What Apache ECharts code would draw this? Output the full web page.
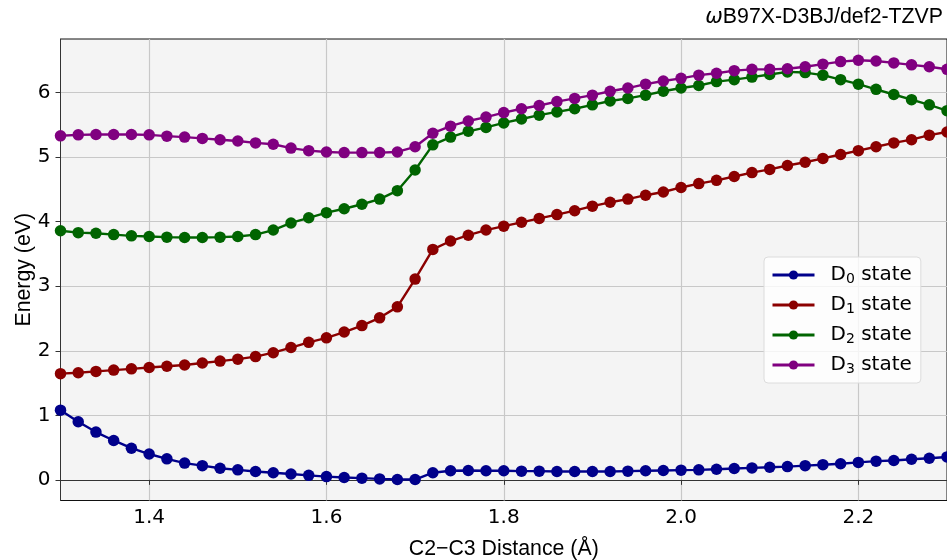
<!DOCTYPE html>
<html>
<head>
<meta charset="utf-8">
<script src="https://cdn.jsdelivr.net/npm/echarts/dist/echarts.min.js"></script>
<style>
  body { margin: 0; background: #fff; }
  #chart { width: 947px; height: 560px; }
</style>
</head>
<body>
<div id="chart"></div>
<script>
// C2-C3 distance (Å)
const distance = [
  1.30, 1.32, 1.34, 1.36, 1.38, 1.40, 1.42, 1.44, 1.46, 1.48,
  1.50, 1.52, 1.54, 1.56, 1.58, 1.60, 1.62, 1.64, 1.66, 1.68,
  1.70, 1.72, 1.74, 1.76, 1.78, 1.80, 1.82, 1.84, 1.86, 1.88,
  1.90, 1.92, 1.94, 1.96, 1.98, 2.00, 2.02, 2.04, 2.06, 2.08,
  2.10, 2.12, 2.14, 2.16, 2.18, 2.20, 2.22, 2.24, 2.26, 2.28, 2.30
];
// energies (eV)
const d0 = [
  1.08, 0.90, 0.74, 0.61, 0.49, 0.40, 0.325, 0.26, 0.22, 0.18,
  0.155, 0.13, 0.11, 0.09, 0.07, 0.05, 0.036, 0.026, 0.015, 0.005,
  0.005, 0.11, 0.14, 0.145, 0.14, 0.14, 0.135, 0.135, 0.13, 0.13,
  0.13, 0.13, 0.135, 0.14, 0.145, 0.15, 0.155, 0.165, 0.175, 0.185,
  0.195, 0.205, 0.22, 0.235, 0.25, 0.27, 0.29, 0.30, 0.32, 0.335, 0.355
];
const d1 = [
  1.645, 1.66, 1.68, 1.70, 1.72, 1.74, 1.76, 1.78, 1.81, 1.84,
  1.87, 1.91, 1.97, 2.05, 2.13, 2.20, 2.29, 2.39, 2.51, 2.68,
  3.11, 3.57, 3.70, 3.79, 3.87, 3.93, 3.99, 4.05, 4.11, 4.17,
  4.24, 4.30, 4.35, 4.41, 4.46, 4.53, 4.59, 4.64, 4.70, 4.76,
  4.81, 4.87, 4.92, 4.98, 5.04, 5.10, 5.16, 5.22, 5.27, 5.34, 5.39
];
const d2 = [
  3.86, 3.83, 3.82, 3.80, 3.78, 3.77, 3.76, 3.755, 3.755, 3.76,
  3.77, 3.80, 3.87, 3.98, 4.06, 4.14, 4.20, 4.27, 4.35, 4.48,
  4.80, 5.19, 5.31, 5.40, 5.46, 5.53, 5.59, 5.65, 5.70, 5.75,
  5.81, 5.87, 5.91, 5.96, 6.02, 6.07, 6.11, 6.17, 6.20, 6.24,
  6.28, 6.32, 6.31, 6.27, 6.20, 6.13, 6.05, 5.97, 5.89, 5.81, 5.72
];
const d3 = [
  5.33, 5.345, 5.35, 5.35, 5.35, 5.345, 5.325, 5.31, 5.29, 5.27,
  5.25, 5.22, 5.20, 5.14, 5.10, 5.08, 5.07, 5.07, 5.07, 5.08,
  5.16, 5.37, 5.48, 5.56, 5.62, 5.69, 5.75, 5.80, 5.86, 5.91,
  5.96, 6.02, 6.07, 6.13, 6.18, 6.22, 6.27, 6.30, 6.34, 6.36,
  6.36, 6.37, 6.40, 6.44, 6.48, 6.50, 6.49, 6.46, 6.43, 6.40, 6.36
];
const stateNames = ["D0 state", "D1 state", "D2 state", "D3 state"];
const stateColors = ["#00008b", "#8b0000", "#006400", "#800080"];
const xTicks = [1.4, 1.6, 1.8, 2.0, 2.2];
const yTicks = [0, 1, 2, 3, 4, 5, 6];

const tickFont = { fontFamily: "DejaVu Sans", fontSize: 20, color: "#000" };
const labelFont = { fontFamily: "Liberation Sans", fontSize: 21.3, color: "#000" };

let chartDom = document.getElementById("chart");
let myChart = echarts.init(chartDom);

let series = [d0, d1, d2, d3].map((ys, i) => ({
  name: stateNames[i],
  type: "line",
  data: distance.map((x, j) => [x, ys[j]]),
  symbol: "circle",
  symbolSize: 11.5,
  clip: true,
  color: stateColors[i],
  lineStyle: { width: 2.4, color: stateColors[i] },
  itemStyle: { color: stateColors[i] },
  emphasis: { disabled: true },
  z: 3 + i,
}));

let options = {
  animation: false,
  title: {
    // ω is drawn in italic like matplotlib mathtext
    text: "{w|ω}B97X-D3BJ/def2-TZVP",
    right: 4,
    top: 7,
    padding: 0,
    textStyle: {
      ...labelFont,
      fontWeight: "normal",
      rich: {
        w: { fontFamily: "DejaVu Sans", fontStyle: "italic", fontSize: 21, color: "#000" },
      },
    },
  },
  grid: {
    left: 60.5,
    right: 0,
    top: 39,
    bottom: 59.5,
    // keep the plot box fixed, labels may sit outside it
    outerBoundsMode: "none",
    containLabel: false,
    show: true,
    backgroundColor: "#f4f4f4",
    borderColor: "#111",
    borderWidth: 1,
  },
  legend: {
    left: 764,
    top: 257,
    orient: "vertical",
    padding: [6, 9, 7, 7],
    itemWidth: 42,
    itemHeight: 11.5,
    itemGap: 7,
    backgroundColor: "rgba(255,255,255,0.8)",
    borderColor: "#dcdcdc",
    borderWidth: 1,
    borderRadius: 4,
    lineStyle: { width: 3 },
    formatter: (name) => name.replace(/D(\d)/, "D{sub|$1}"),
    textStyle: {
      fontFamily: "DejaVu Sans",
      fontSize: 20,
      color: "#000",
      lineHeight: 22,
      padding: [0, 0, 0, 11],
      rich: {
        sub: {
          fontFamily: "DejaVu Sans",
          fontSize: 14,
          lineHeight: 22,
          verticalAlign: "bottom",
          padding: [9, 0, 0, 0],
        },
      },
    },
    data: stateNames,
  },
  xAxis: {
    type: "value",
    min: 1.3,
    max: 2.3,
    splitNumber: 5,
    name: "C2\u2212C3 Distance (Å)",
    nameLocation: "middle",
    nameGap: 38,
    nameMoveOverlap: false,
    nameTextStyle: labelFont,
    axisLine: { lineStyle: { color: "#333", width: 1 } },
    axisTick: { show: true, length: 5, lineStyle: { color: "#333" }, customValues: xTicks },
    axisLabel: {
      ...tickFont,
      margin: 7,
      customValues: xTicks,
      formatter: (v) => v.toFixed(1),
    },
    splitLine: { show: true, lineStyle: { color: "#c8c8c8", width: 1.2 } },
  },
  yAxis: {
    type: "value",
    min: -0.32,
    max: 6.83,
    splitNumber: 7,
    name: "Energy (eV)",
    nameLocation: "middle",
    nameGap: 26,
    nameMoveOverlap: false,
    nameTextStyle: labelFont,
    axisLine: { show: true, lineStyle: { color: "#333", width: 1 } },
    axisTick: { show: true, length: 5, lineStyle: { color: "#333" }, customValues: yTicks },
    axisLabel: { ...tickFont, margin: 10, customValues: yTicks },
    splitLine: { show: true, lineStyle: { color: "#c8c8c8", width: 1.2 } },
  },
  series: series,
};
options && myChart.setOption(options);
window.onresize = myChart.resize;
</script>
</body>
</html>
